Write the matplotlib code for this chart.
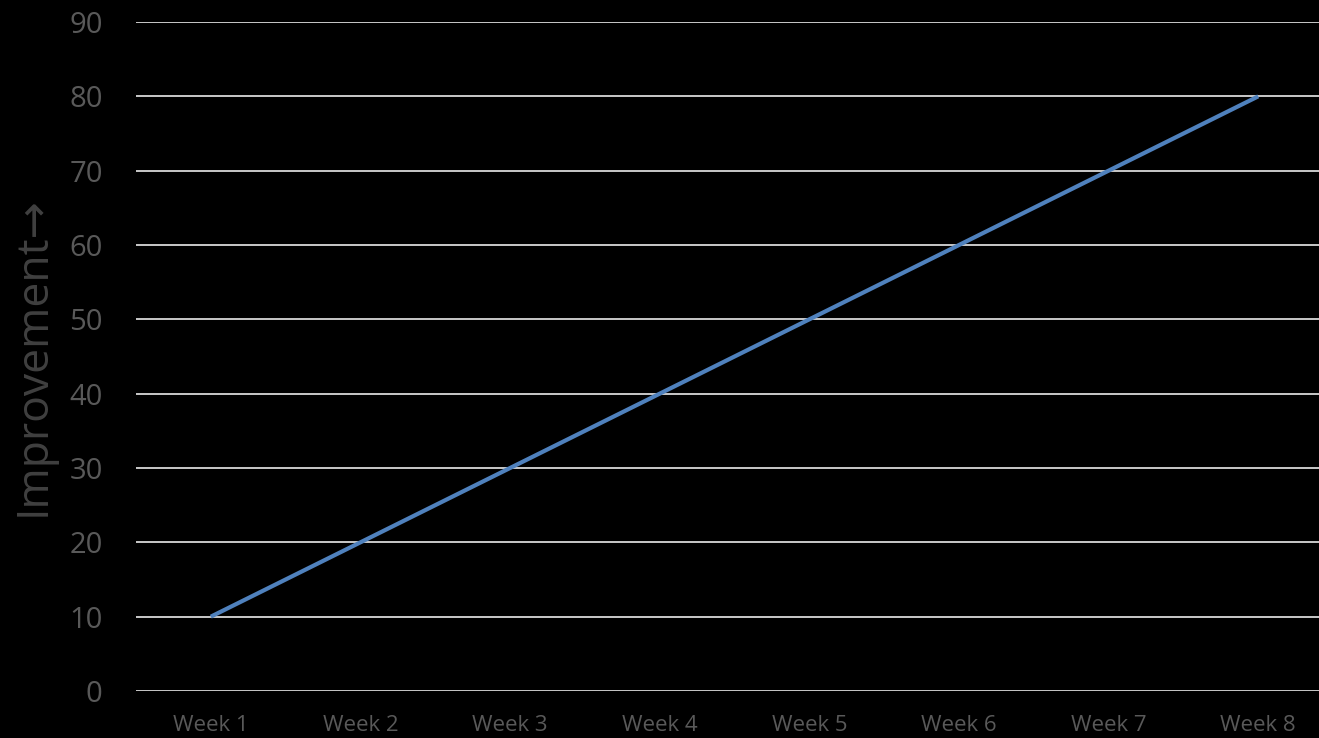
import matplotlib.pyplot as plt

weeks = ['Week 1', 'Week 2', 'Week 3', 'Week 4', 'Week 5', 'Week 6', 'Week 7', 'Week 8']
improvement = [10, 20, 30, 40, 50, 60, 70, 80]
yticks = [0, 10, 20, 30, 40, 50, 60, 70, 80, 90]

plt.rcParams['font.family'] = ['Open Sans', 'DejaVu Sans']

fig = plt.figure(figsize=(13.19, 7.38), dpi=100, facecolor='black')
ax = fig.add_axes([136 / 1319, 47 / 738, 1183 / 1319, 669 / 738])
ax.set_facecolor('black')

ax.plot(range(len(weeks)), improvement, color='#4f81bd', linewidth=3, solid_capstyle='butt', zorder=3)

ax.set_ylim(0, 90)
ax.set_yticks(yticks)
ax.set_xticks(range(len(weeks)))
ax.set_xticklabels(weeks)
# right edge of the last category band falls outside the picture
ax.set_xlim(-0.5, 7.406)

ax.grid(axis='y', color='white', linewidth=1.1)
ax.grid(axis='x', visible=False)
ax.set_axisbelow(True)
for s in ax.spines.values():
    s.set_visible(False)

ax.tick_params(axis='y', length=0, pad=24, labelsize=21, labelcolor='#595959')
ax.tick_params(axis='x', length=0, pad=17, labelsize=16, labelcolor='#595959')

ax.set_ylabel('Improvement→', fontsize=32, color='#404040')
ax.yaxis.set_label_coords(-80 / 1183, 0.5)

plt.savefig('out.png', dpi=100, facecolor='black')
